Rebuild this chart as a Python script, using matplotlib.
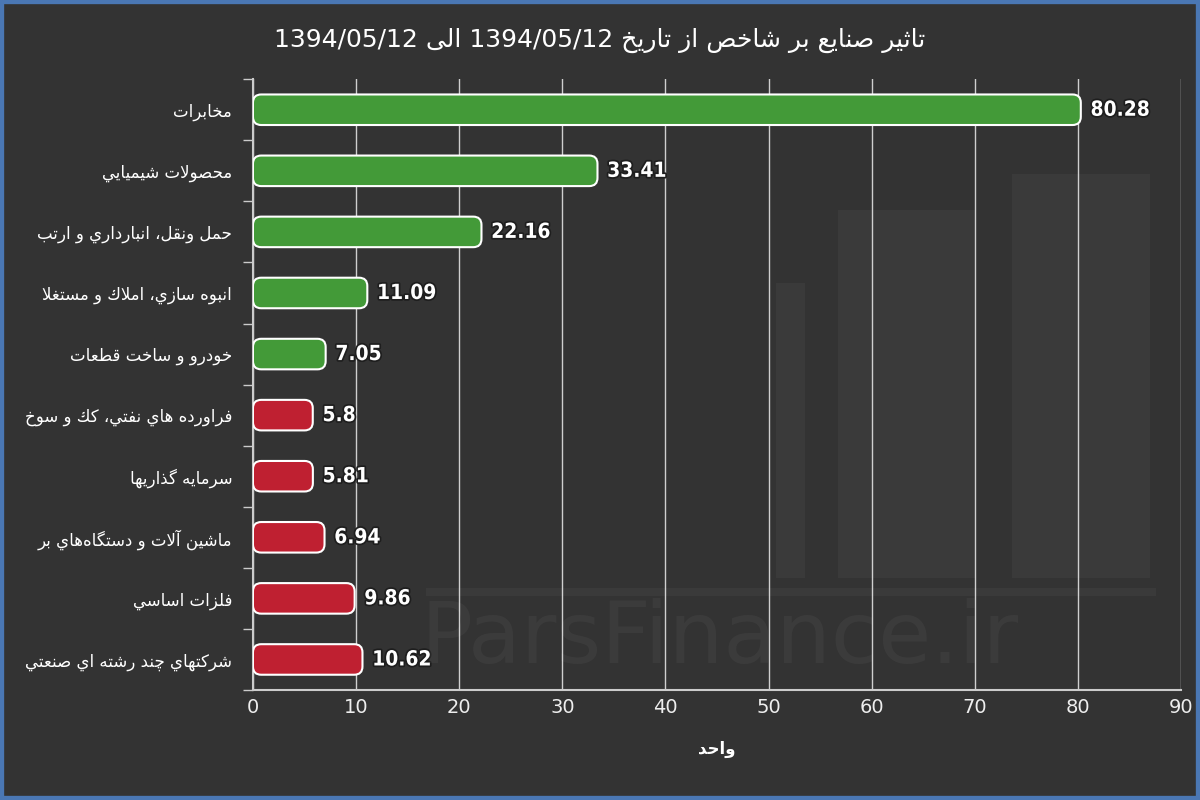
import re
import matplotlib
matplotlib.use('Agg')
import matplotlib.pyplot as plt
import matplotlib.patheffects as pe
from matplotlib.patches import FancyBboxPatch, Rectangle

# data
industries = [
    'مخابرات',
    'محصولات شيميايي',
    'حمل ونقل، انبارداري و ارتب',
    'انبوه سازي، املاك و مستغلا',
    'خودرو و ساخت قطعات',
    'فراورده هاي نفتي، كك و سوخ',
    'سرمايه گذاريها',
    'ماشين آلات و دستگاه\u200cهاي بر',
    'فلزات اساسي',
    'شركتهاي چند رشته اي صنعتي',
]
impact = [80.28, 33.41, 22.16, 11.09, 7.05, 5.8, 5.81, 6.94, 9.86, 10.62]
direction = ['up', 'up', 'up', 'up', 'up', 'down', 'down', 'down', 'down', 'down']
title = 'تاثیر صنایع بر شاخص از تاریخ 1394/05/12 الی 1394/05/12'
xlabel = 'واحد'
xticks = [0, 10, 20, 30, 40, 50, 60, 70, 80, 90]

# matplotlib 3.10 has no arabic shaping -> map to presentation forms by hand
FORMS = {
    'ا': (0xFE8D, 2), 'آ': (0xFE81, 2), 'ب': (0xFE8F, 4), 'ة': (0xFE93, 2),
    'ت': (0xFE95, 4), 'ث': (0xFE99, 4), 'ج': (0xFE9D, 4), 'ح': (0xFEA1, 4),
    'خ': (0xFEA5, 4), 'د': (0xFEA9, 2), 'ذ': (0xFEAB, 2), 'ر': (0xFEAD, 2),
    'ز': (0xFEAF, 2), 'س': (0xFEB1, 4), 'ش': (0xFEB5, 4), 'ص': (0xFEB9, 4),
    'ض': (0xFEBD, 4), 'ط': (0xFEC1, 4), 'ظ': (0xFEC5, 4), 'ع': (0xFEC9, 4),
    'غ': (0xFECD, 4), 'ف': (0xFED1, 4), 'ق': (0xFED5, 4), 'ك': (0xFED9, 4),
    'ل': (0xFEDD, 4), 'م': (0xFEE1, 4), 'ن': (0xFEE5, 4), 'ه': (0xFEE9, 4),
    'و': (0xFEED, 2), 'ى': (0xFEEF, 2), 'ي': (0xFEF1, 4),
    'پ': (0xFB56, 4), 'چ': (0xFB7A, 4), 'ژ': (0xFB8A, 2), 'ک': (0xFB8E, 4),
    'گ': (0xFB92, 4), 'ی': (0xFBFC, 4),
}
LAM_ALEF = {'ا': 0xFEFB, 'آ': 0xFEF5}


def shape(s):
    out = []
    prev_joins = False
    i = 0
    while i < len(s):
        c = s[i]
        if c not in FORMS:
            if c != '\u200c':
                out.append(c)
            prev_joins = False
            i += 1
            continue
        if c == 'ل' and i + 1 < len(s) and s[i + 1] in LAM_ALEF:
            out.append(chr(LAM_ALEF[s[i + 1]] + (1 if prev_joins else 0)))
            prev_joins = False
            i += 2
            continue
        base, n = FORMS[c]
        nxt = s[i + 1] if i + 1 < len(s) else ''
        next_joins = n == 4 and nxt in FORMS
        out.append(chr(base + (1 if prev_joins else 0) + (2 if next_joins else 0)))
        prev_joins = next_joins
        i += 1
    return ''.join(out)


def rtl(s):
    runs = re.findall(r'[0-9A-Za-z./]+|[^0-9A-Za-z./]+', shape(s))
    return ''.join(r if r[0].isalnum() and r[0].isascii() else r[::-1]
                   for r in reversed(runs))


bg = '#333333'
fig = plt.figure(figsize=(12, 8), dpi=100, facecolor=bg)

# faint logo + watermark behind the chart
wm = dict(transform=fig.transFigure, fc='white', ec='none', alpha=0.035, zorder=0)
fig.patches.append(Rectangle((0.647, 0.278), 0.024, 0.368, **wm))
fig.patches.append(Rectangle((0.698, 0.278), 0.115, 0.460, **wm))
fig.patches.append(Rectangle((0.843, 0.278), 0.115, 0.505, **wm))
fig.patches.append(Rectangle((0.355, 0.255), 0.608, 0.010, **wm))
fig.text(0.6, 0.2, 'ParsFinance.ir', fontsize=62, color='white', alpha=0.045,
         ha='center', va='center', zorder=0)

ax = fig.add_axes([0.2108, 0.1375, 0.7734, 0.7635])
ax.set_facecolor('none')

colors = {'up': '#439a38', 'down': '#bf2031'}
ypos = list(range(len(industries)))
bars = ax.barh(ypos, impact, height=0.5, color=[colors[d] for d in direction])
for b in bars:
    fb = FancyBboxPatch((b.get_x(), b.get_y()), b.get_width(), b.get_height(),
                        boxstyle='round,pad=0,rounding_size=0.8',
                        mutation_aspect=0.168, fc=b.get_facecolor(),
                        ec='white', lw=1.5, zorder=3)
    ax.add_patch(fb)
    b.remove()

for y, v in zip(ypos, impact):
    ax.annotate(f'{v:g}', (v, y), xytext=(7, 0), textcoords='offset points',
                ha='left', va='center', color='white', fontsize=15,
                fontweight='bold', fontstretch='condensed', zorder=4,
                path_effects=[pe.withStroke(linewidth=2.5, foreground='#1e1e1e')])

ax.set_xlim(0, 90)
ax.set_ylim(len(industries) - 0.5, -0.5)
ax.set_xticks(xticks)
ax.set_xticklabels([str(t) for t in xticks], fontsize=14, color='#eeeeee')
ax.set_yticks(ypos)
ax.set_yticklabels([rtl(t) for t in industries], fontsize=12, color='white')
ax.set_yticks([y - 0.5 for y in range(len(industries) + 1)], minor=True)
ax.tick_params(axis='y', which='major', length=0, pad=15)
ax.tick_params(axis='y', which='minor', length=7, color='#cccccc', width=1)
ax.tick_params(axis='x', length=0, pad=6)

ax.grid(axis='x', color='#cfcfcf', lw=1)
ax.set_axisbelow(True)
for side in ['top', 'right']:
    ax.spines[side].set_visible(False)
for side in ['left', 'bottom']:
    ax.spines[side].set_color('#cccccc')
    ax.spines[side].set_linewidth(1.5)

ax.set_xlabel(rtl(xlabel), fontsize=12, fontweight='bold', color='white', labelpad=16)
fig.text(0.5, 0.949, rtl(title), fontsize=18, color='white', ha='center', va='center')

fig.patches.append(Rectangle((0, 0), 1, 1, transform=fig.transFigure, fill=False,
                             ec='#4a77b4', lw=6))

fig.savefig('out.png', dpi=100, facecolor=bg)
